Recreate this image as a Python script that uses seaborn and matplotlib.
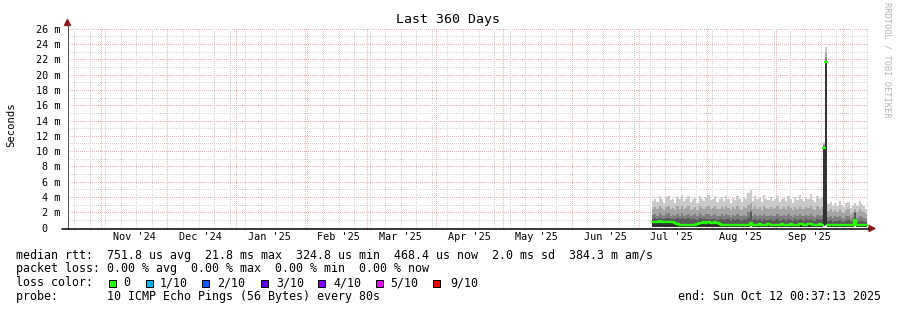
import numpy as np
import pandas as pd
import matplotlib
matplotlib.use("Agg")
import matplotlib.pyplot as plt
import matplotlib.dates as mdates
import matplotlib.transforms as mtransforms
from matplotlib.patches import Rectangle, Polygon
from matplotlib.lines import Line2D
import seaborn as sns
from datetime import datetime

# ---------------- data ----------------
chart_start = datetime(2024, 10, 17, 0, 37, 13)
chart_end = datetime(2025, 10, 12, 0, 37, 13)
first_day = "2025-07-07"

# smoke bands (ms): top edges of sorted pings, plus min and median
p_max = [3.6, 3.9, 3.5, 4.2, 3.8, 3.4, 4.0, 4.3, 3.7, 3.9,
         3.3, 4.1, 3.8, 4.4, 3.6, 3.9, 4.2, 3.5, 3.8, 4.0,
         3.4, 4.3, 3.9, 3.6, 4.1, 4.4, 3.7, 3.9, 4.2, 3.5,
         3.8, 4.1, 3.6, 4.3, 3.9, 3.4, 4.0, 3.7, 4.2, 3.8,
         3.5, 4.1, 3.9, 4.6, 5.0, 3.6, 4.2, 3.8, 4.0, 3.5,
         4.4, 3.9, 3.7, 4.1, 3.6, 3.9, 4.2, 3.5, 3.8, 4.0,
         3.6, 4.3, 3.9, 3.4, 4.1, 3.7, 4.4, 3.8, 3.6, 4.0,
         3.9, 4.5, 3.7, 3.5, 4.2, 3.8, 4.0, 11.3, 23.7, 3.2,
         3.5, 2.9, 3.4, 3.0, 3.6, 3.1, 2.8, 3.3, 3.5, 2.7,
         3.1, 3.4, 2.9, 3.6, 3.2, 3.0, 2.6]
p_9 = [2.6, 2.8, 2.5, 2.9, 2.7, 2.4, 2.8, 3.0, 2.6, 2.7,
       2.4, 2.9, 2.6, 3.0, 2.5, 2.7, 2.9, 2.4, 2.6, 2.8,
       2.4, 2.9, 2.7, 2.5, 2.8, 2.9, 2.6, 2.7, 2.9, 2.5,
       2.6, 2.8, 2.5, 2.9, 2.7, 2.4, 2.8, 2.6, 2.9, 2.6,
       2.4, 2.8, 2.7, 3.1, 3.4, 2.5, 2.9, 2.6, 2.8, 2.4,
       3.0, 2.7, 2.6, 2.8, 2.5, 2.7, 2.9, 2.5, 2.6, 2.8,
       2.5, 2.9, 2.7, 2.4, 2.8, 2.6, 3.0, 2.6, 2.5, 2.8,
       2.7, 3.0, 2.6, 2.4, 2.9, 2.6, 2.8, 11.0, 23.0, 2.3,
       2.5, 2.1, 2.4, 2.2, 2.6, 2.2, 2.0, 2.4, 2.5, 1.9,
       2.2, 2.6, 2.1, 2.5, 2.3, 2.1, 1.9]
p_8 = [1.8, 1.9, 1.7, 2.0, 1.8, 1.6, 1.9, 2.0, 1.7, 1.8,
       1.6, 1.9, 1.7, 2.0, 1.7, 1.8, 1.9, 1.6, 1.8, 1.9,
       1.6, 2.0, 1.8, 1.7, 1.9, 1.9, 1.7, 1.8, 1.9, 1.6,
       1.7, 1.9, 1.6, 1.9, 1.8, 1.5, 1.8, 1.7, 1.9, 1.7,
       1.6, 1.8, 1.7, 2.1, 2.4, 1.6, 1.9, 1.7, 1.8, 1.6,
       1.9, 1.7, 1.6, 1.8, 1.6, 1.7, 1.9, 1.6, 1.7, 1.8,
       1.6, 1.9, 1.7, 1.5, 1.8, 1.7, 1.9, 1.7, 1.6, 1.8,
       1.7, 1.9, 1.6, 1.5, 1.8, 1.7, 1.8, 10.8, 22.3, 1.5,
       1.6, 1.4, 1.6, 1.5, 1.7, 1.4, 1.3, 1.6, 1.6, 1.3,
       1.5, 2.2, 1.4, 1.6, 1.5, 1.4, 1.3]
p_7 = [1.3, 1.4, 1.3, 1.4, 1.3, 1.2, 1.4, 1.4, 1.2, 1.3,
       1.2, 1.4, 1.3, 1.4, 1.2, 1.3, 1.4, 1.2, 1.3, 1.3,
       1.1, 1.4, 1.3, 1.2, 1.3, 1.3, 1.2, 1.2, 1.3, 1.1,
       1.2, 1.3, 1.1, 1.3, 1.2, 1.0, 1.2, 1.1, 1.3, 1.1,
       1.0, 1.2, 1.1, 1.4, 2.1, 1.1, 1.3, 1.1, 1.2, 1.0,
       1.3, 1.1, 1.1, 1.2, 1.0, 1.1, 1.2, 1.0, 1.1, 1.2,
       1.0, 1.2, 1.1, 1.0, 1.2, 1.1, 1.2, 1.1, 1.0, 1.2,
       1.1, 1.2, 1.0, 1.0, 1.2, 1.1, 1.2, 10.6, 21.9, 1.0,
       1.1, 0.9, 1.0, 1.0, 1.1, 0.9, 0.9, 1.0, 1.1, 0.9,
       1.0, 2.0, 0.9, 1.0, 1.0, 0.9, 0.9]
median = [0.85, 0.9, 0.85, 0.95, 0.85, 0.8, 0.9, 0.85, 0.8, 0.85,
          0.75, 0.55, 0.5, 0.45, 0.45, 0.4, 0.45, 0.5, 0.45, 0.5,
          0.6, 0.7, 0.75, 0.8, 0.75, 0.8, 0.7, 0.75, 0.8, 0.7,
          0.6, 0.5, 0.45, 0.5, 0.45, 0.4, 0.45, 0.5, 0.45, 0.5,
          0.45, 0.4, 0.45, 0.5, 0.7, 0.5, 0.45, 0.5, 0.55, 0.5,
          0.45, 0.5, 0.55, 0.5, 0.45, 0.5, 0.5, 0.45, 0.55, 0.5,
          0.45, 0.5, 0.55, 0.5, 0.45, 0.5, 0.6, 0.55, 0.5, 0.45,
          0.55, 0.6, 0.5, 0.45, 0.5, 0.55, 0.5, 10.5, 21.8, 0.45,
          0.5, 0.45, 0.4, 0.45, 0.5, 0.45, 0.4, 0.45, 0.5, 0.45,
          0.5, 1.1, 0.5, 0.45, 0.4, 0.45, 0.4]
p_min = [0.25, 0.2, 0.25, 0.2, 0.2, 0.25, 0.2, 0.2, 0.25, 0.2,
         0.2, 0.15, 0.15, 0.2, 0.15, 0.15, 0.15, 0.2, 0.15, 0.15,
         0.2, 0.2, 0.25, 0.2, 0.2, 0.2, 0.25, 0.2, 0.2, 0.2,
         0.15, 0.2, 0.2, 0.15, 0.2, 0.15, 0.15, 0.2, 0.15, 0.2,
         0.15, 0.15, 0.2, 0.2, 0.3, 0.15, 0.2, 0.15, 0.2, 0.15,
         0.2, 0.15, 0.2, 0.15, 0.2, 0.15, 0.2, 0.15, 0.2, 0.15,
         0.15, 0.2, 0.2, 0.15, 0.15, 0.2, 0.2, 0.15, 0.2, 0.15,
         0.2, 0.2, 0.15, 0.15, 0.2, 0.2, 0.15, 0.3, 0.5, 0.15,
         0.2, 0.15, 0.15, 0.2, 0.15, 0.15, 0.15, 0.2, 0.15, 0.15,
         0.2, 0.3, 0.2, 0.15, 0.15, 0.2, 0.15]

y_tick_values = [0, 2, 4, 6, 8, 10, 12, 14, 16, 18, 20, 22, 24, 26]
y_tick_labels = ["0", "2 m", "4 m", "6 m", "8 m", "10 m", "12 m", "14 m",
                 "16 m", "18 m", "20 m", "22 m", "24 m", "26 m"]
month_labels = ["Nov '24", "Dec '24", "Jan '25", "Feb '25", "Mar '25", "Apr '25",
                "May '25", "Jun '25", "Jul '25", "Aug '25", "Sep '25"]
month_label_dates = ["2024-11-16", "2024-12-16", "2025-01-16", "2025-02-16", "2025-03-16",
                     "2025-04-16", "2025-05-16", "2025-06-16", "2025-07-16", "2025-08-16",
                     "2025-09-16"]

title = "Last 360 Days"
y_title = "Seconds"
legend_lines = [
    "median rtt:  751.8 us avg  21.8 ms max  324.8 us min  468.4 us now  2.0 ms sd  384.3 m am/s",
    "packet loss: 0.00 % avg  0.00 % max  0.00 % min  0.00 % now",
    "loss color:",
    "probe:       10 ICMP Echo Pings (56 Bytes) every 80s",
]
end_text = "end: Sun Oct 12 00:37:13 2025"
loss_labels = ["0", "1/10", "2/10", "3/10", "4/10", "5/10", "9/10"]
loss_colors = ["#26ff00", "#00b8ff", "#0059ff", "#5e00ff", "#7e00ff", "#dd00ff", "#ff0000"]
watermark = "RRDTOOL / TOBI OETIKER"

# ---------------- style ----------------
sns.set_theme(style="white")
plt.rcParams['font.family'] = ['DejaVu Sans Mono', 'DejaVu Sans']

W, H = 897, 310
PW, PH = 800, 201  # plot area in pixels
def fxp(x):
    return x / W
def fyp(y):
    return 1 - y / H

fig = plt.figure(figsize=(W / 100, H / 100), dpi=100)
fig.patch.set_facecolor("white")
ax = fig.add_axes([fxp(67.5), fyp(228.5), PW / W, PH / H])
ax.set_facecolor("white")
x0 = mdates.date2num(chart_start)
x1 = mdates.date2num(chart_end)
ax.set_xlim(x0, x1)
ax.set_ylim(0, 26.3)
for s in ax.spines.values():
    s.set_visible(False)
ax.set_xticks([])
ax.set_yticks(y_tick_values)
ax.set_yticks(list(range(1, 27, 2)), minor=True)
ax.tick_params(axis="y", which="major", length=2.4, width=0.72, color="#777777", labelleft=False)
ax.tick_params(axis="y", which="minor", length=1.5, width=0.72, color="#999999", labelleft=False)

# grid: 1px dots every other pixel
grid_gray = "#d6d6d6"
grid_red = "#ebb0b0"
hx = (np.arange(0, PW, 2) + 0.5) / PW
vy = (np.arange(0, PH, 2) + 0.5) / PH
th = mtransforms.blended_transform_factory(ax.transAxes, ax.transData)
tv = mtransforms.blended_transform_factory(ax.transData, ax.transAxes)
for v in range(1, 27):
    ax.plot(hx, np.full_like(hx, v), ",", color=grid_red if v % 2 == 0 else grid_gray,
            transform=th, zorder=0, clip_on=False)
sundays = pd.date_range("2024-10-20", chart_end, freq="7D")
for d in sundays:
    xv = mdates.date2num(d)
    ax.plot(np.full_like(vy, xv), vy, ",", color=grid_gray, transform=tv, zorder=0)
months = pd.date_range("2024-11-01", chart_end, freq="MS")
for d in months:
    xv = mdates.date2num(d)
    ax.plot(np.full_like(vy, xv), vy, ",", color=grid_red, transform=tv, zorder=0.5)

# smoke
n = len(median)
days = pd.date_range(first_day, periods=n + 1, freq="D")
xe = mdates.date2num(days.to_pydatetime())
def ext(a):
    a = np.asarray(a, dtype=float)
    return np.append(a, a[-1])
lo = ext(p_min)
bands = [(p_max, "#cacaca"), (p_9, "#a4a4a4"), (p_8, "#7e7e7e"), (p_7, "#585858"), (median, "#323232")]
for k, (top, col) in enumerate(bands):
    ax.fill_between(xe, lo, ext(top), step="post", color=col, lw=0, zorder=2 + k * 0.1)

# median line (break around large jumps)
green = "#26ff00"
med = np.asarray(median, dtype=float)
spikes = [i for i in range(n) if med[i] > 5]
cuts = [-1] + spikes + [n]
for a, b in zip(cuts[:-1], cuts[1:]):
    s, e = a + 1, b
    if e - s < 1:
        continue
    xs = xe[s:e + 1]
    ys = np.append(med[s:e], med[e - 1])
    sns.lineplot(x=xs, y=ys, ax=ax, color=green, lw=1.7, drawstyle="steps-post",
                 estimator=None, sort=False, zorder=6)
for i in spikes:
    sns.lineplot(x=[xe[i], xe[i + 1]], y=[med[i], med[i]], ax=ax, color=green, lw=1.7,
                 estimator=None, sort=False, zorder=6)
ax.set_xlabel("")
ax.set_ylabel("")

# axes lines and arrows
fig.add_artist(Line2D([fxp(67.5), fxp(67.5)], [fyp(229), fyp(24)], color="#555555", lw=0.72))
fig.add_artist(Line2D([fxp(62), fxp(869)], [fyp(228.5), fyp(228.5)], color="black", lw=1.1))
arrow_col = "#8b1a1a"
fig.add_artist(Polygon([(fxp(67.5), fyp(19.5)), (fxp(64.5), fyp(25.5)), (fxp(70.5), fyp(25.5))],
                       closed=True, color=arrow_col, transform=fig.transFigure))
fig.add_artist(Polygon([(fxp(875), fyp(228.5)), (fxp(869), fyp(225.5)), (fxp(869), fyp(231.5))],
                       closed=True, color=arrow_col, transform=fig.transFigure))

# tick labels
trans_y = mtransforms.blended_transform_factory(fig.transFigure, ax.transData)
for v, lab in zip(y_tick_values, y_tick_labels):
    xr = 60.5 if lab.endswith("m") else 47.5
    ax.text(fxp(xr), v, lab, ha="right", va="center", fontsize=7.3, color="black",
            transform=trans_y, clip_on=False)
trans_x = mtransforms.blended_transform_factory(ax.transData, fig.transFigure)
for lab, d in zip(month_labels, month_label_dates):
    ax.text(mdates.date2num(pd.Timestamp(d).to_pydatetime()), fyp(240), lab, ha="center",
            va="baseline", fontsize=7.3, color="black", transform=trans_x, clip_on=False)

# titles
fig.text(fxp(448), fyp(23), title, ha="center", va="baseline", fontsize=9.5, color="black")
fig.text(fxp(11), fyp(125), y_title, ha="center", va="center", rotation=90, fontsize=7.6,
         color="black")
fig.text(fxp(886.5), fyp(60), watermark, ha="center", va="center", rotation=270, fontsize=6.2,
         color="#b4b4b4")

# legend
baselines = [258.7, 272.3, 286, 300]
for txt, yb in zip(legend_lines, baselines):
    fig.text(fxp(16), fyp(yb), txt, ha="left", va="baseline", fontsize=8.37, color="black")
fig.text(fxp(881), fyp(300), end_text, ha="right", va="baseline", fontsize=8.37, color="black")
square_x = [108.7, 145.7, 202.3, 261, 318.3, 376, 433.3]
label_x = [123.3, 160, 217.3, 276, 333.3, 390.7, 450]
for sx, lx, lab, col in zip(square_x, label_x, loss_labels, loss_colors):
    fig.add_artist(Rectangle((fxp(sx), fyp(286.5)), 7 / W, 7 / H, facecolor=col,
                             edgecolor="black", lw=0.72, transform=fig.transFigure))
    fig.text(fxp(lx), fyp(286), lab, ha="left", va="baseline", fontsize=8.37, color="black")

fig.savefig("out.png", dpi=100, facecolor="white")
